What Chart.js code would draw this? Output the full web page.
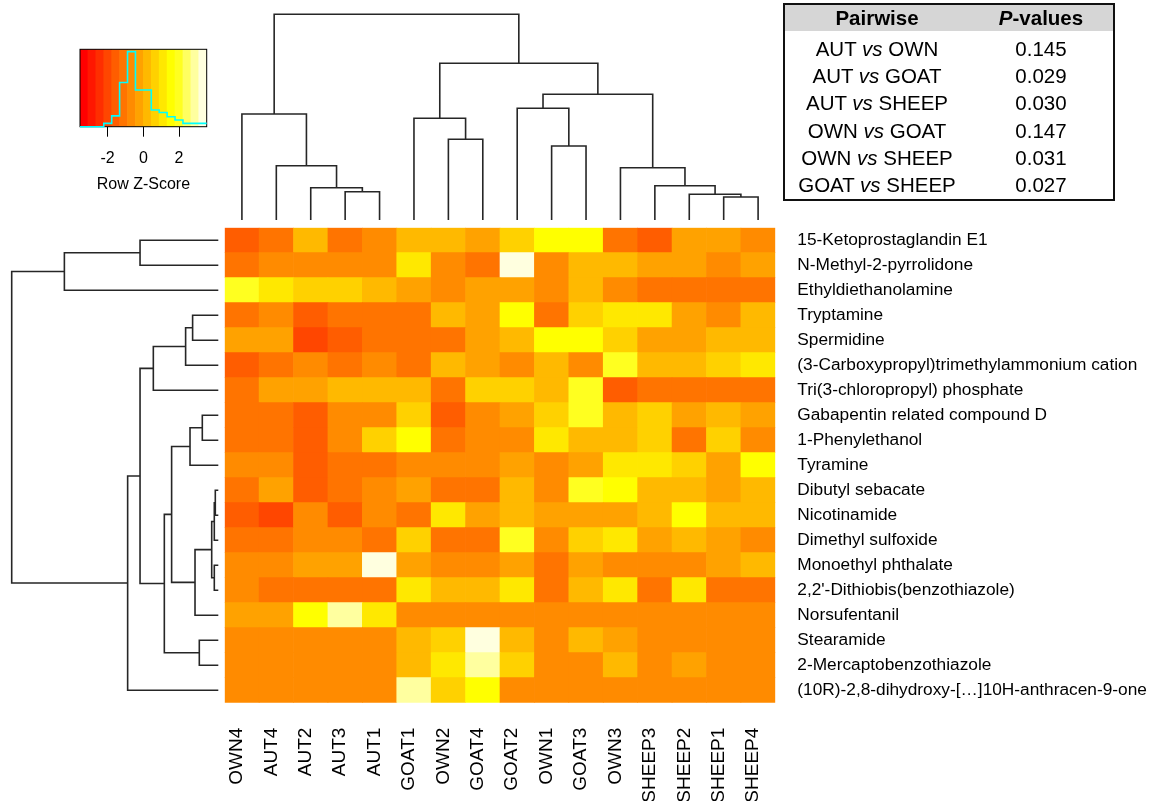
<!DOCTYPE html>
<html><head><meta charset="utf-8">
<script src="https://cdn.jsdelivr.net/npm/chart.js@4.4.1/dist/chart.umd.min.js"></script>
<style>
html,body{margin:0;padding:0;background:#fff;}
#wrap{position:relative;width:1150px;height:801px;overflow:hidden;font-family:'Liberation Sans',Arial,sans-serif;}
canvas.layer{position:absolute;left:0;top:0;}
#pt{position:absolute;left:783px;top:3px;border:2px solid #111;border-collapse:collapse;font-size:20.5px;color:#000;}
#pt td,#pt th{padding:0;text-align:center;white-space:nowrap;}
#pt th{background:#d6d6d6;height:26px;font-weight:bold;}
#pt td{height:27.3px;}
#pt .c1{width:184px;} #pt .c2{width:144px;}
</style></head>
<body>
<div id="wrap">
  <canvas id="heat" class="layer" width="1150" height="801"></canvas>
  <canvas id="dTop" class="layer" width="1150" height="801"></canvas>
  <canvas id="dLeft" class="layer" width="1150" height="801"></canvas>
  <canvas id="key" class="layer" width="240" height="200"></canvas>
  <table id="pt"></table>
</div>
<script>
// ---------------- data ----------------
const colNames = ['OWN4','AUT4','AUT2','AUT3','AUT1','GOAT1','OWN2','GOAT4','GOAT2','OWN1','GOAT3','OWN3','SHEEP3','SHEEP2','SHEEP1','SHEEP4'];
const rowNames = ['15-Ketoprostaglandin E1','N-Methyl-2-pyrrolidone','Ethyldiethanolamine','Tryptamine','Spermidine',
  '(3-Carboxypropyl)trimethylammonium cation','Tri(3-chloropropyl) phosphate','Gabapentin related compound D','1-Phenylethanol',
  'Tyramine','Dibutyl sebacate','Nicotinamide','Dimethyl sulfoxide','Monoethyl phthalate',"2,2'-Dithiobis(benzothiazole)",
  'Norsufentanil','Stearamide','2-Mercaptobenzothiazole','(10R)-2,8-dihydroxy-[\u2026]10H-anthracen-9-one'];
// row z-scores (rows top->bottom, columns in display order)
const zScores = [
  [-1.55,-1.1,0.2,-1.1,-0.55,0.2,0.2,-0.2,0.65,1.55,1.55,-1.1,-1.55,-0.2,-0.2,-0.55],
  [-1.1,-0.55,-0.55,-0.55,-0.55,1.1,-0.55,-1.1,3.3,-0.55,0.2,0.2,-0.2,-0.2,-0.55,-0.2],
  [2.0,1.1,0.65,0.65,0.2,-0.2,-0.55,-0.2,-0.2,-0.55,0.2,-0.55,-1.1,-1.1,-1.1,-1.1],
  [-1.1,-0.55,-1.55,-1.1,-1.1,-1.1,0.2,-0.2,1.55,-1.1,0.65,1.1,1.1,-0.2,-0.55,0.2],
  [-0.2,-0.2,-2.0,-1.55,-1.1,-1.1,-1.1,-0.2,0.2,1.55,1.55,0.65,-0.2,-0.2,0.2,0.2],
  [-1.55,-1.1,-0.55,-1.1,-0.55,-1.1,0.2,-0.2,-0.55,0.2,-0.55,2.0,0.2,0.2,0.65,1.1],
  [-1.1,-0.2,-0.2,0.2,0.2,0.2,-1.1,0.65,0.65,0.2,2.0,-1.55,-1.1,-1.1,-1.1,-1.1],
  [-1.1,-1.1,-1.55,-0.55,-0.55,0.65,-1.55,-0.55,-0.2,0.65,2.0,0.2,0.65,-0.2,0.2,-0.2],
  [-1.1,-1.1,-1.55,-0.55,0.65,1.55,-1.1,-0.55,-0.55,1.1,0.2,0.2,0.65,-1.1,0.65,-0.55],
  [-0.55,-0.55,-1.55,-1.1,-1.1,-0.55,-0.55,-0.55,-0.2,-0.55,-0.2,1.1,1.1,0.65,-0.2,1.55],
  [-1.1,-0.2,-1.55,-1.1,-0.55,-0.2,-1.1,-1.1,0.2,-0.55,2.0,1.55,0.2,0.2,-0.2,0.2],
  [-1.55,-2.0,-0.55,-1.55,-0.55,-1.1,1.1,-0.2,0.2,-0.2,-0.2,-0.2,0.2,1.55,0.2,0.2],
  [-1.1,-1.1,-0.55,-0.55,-1.1,0.65,-1.1,-1.1,2.0,-0.55,0.65,1.1,-0.2,0.2,-0.2,-0.55],
  [-0.55,-0.55,-0.2,-0.2,3.3,-0.2,-0.55,-0.55,-0.2,-1.1,-0.2,-0.55,-0.55,-0.55,-0.2,0.2],
  [-0.55,-1.1,-1.1,-1.1,-1.1,1.1,0.2,0.2,1.1,-1.1,0.2,1.1,-1.1,1.1,-1.1,-1.1],
  [-0.2,-0.2,1.55,2.9,1.1,-0.55,-0.55,-0.55,-0.55,-0.55,-0.55,-0.55,-0.55,-0.55,-0.55,-0.55],
  [-0.55,-0.55,-0.55,-0.55,-0.55,0.2,0.65,3.3,0.2,-0.55,0.2,-0.2,-0.55,-0.55,-0.55,-0.55],
  [-0.55,-0.55,-0.55,-0.55,-0.55,0.2,1.1,2.9,0.65,-0.55,-0.55,0.2,-0.55,-0.2,-0.55,-0.55],
  [-0.55,-0.55,-0.55,-0.55,-0.55,2.9,0.65,1.55,-0.55,-0.55,-0.55,-0.55,-0.55,-0.55,-0.55,-0.55]
];
// column dendrogram (hclust-style merges: negative = leaf in display order, positive = earlier merge)
const colMerge = [[-4,-5],[-3,1],[-2,2],[-1,3],[-7,-8],[-6,5],[-10,-11],[-9,7],[-15,-16],[-14,9],[-13,10],[-12,11],[8,12],[6,13],[4,14]];
const colHeights = [1.415,1.615,2.715,5.30,4.035,5.085,3.70,5.585,1.15,1.285,1.715,2.615,6.285,7.835,10.285];
// row dendrogram
const rowMerge = [[-1,-2],[1,-3],[-4,-5],[3,-6],[4,-7],[-8,-9],[6,-10],[-11,-12],[8,-13],[-14,-15],[9,10],[11,-16],[7,12],[-17,-18],[13,14],[5,15],[16,-19],[2,17]];
const rowHeights = [3.915,7.7,1.285,1.635,3.25,0.8,1.415,0.15,0.2,0.2,0.33,1.165,2.335,0.95,2.7,3.915,4.535,10.335];
// colour key
const keyRange = [-3.55, 3.55];
const nColors = 16;
const keyHist = [0,0,0,4,13,53,90,44,44,20,17,12,8,4,4,4];
const keyTicks = [-2, 0, 2];
// pairwise table
const pairA = ['AUT','AUT','AUT','OWN','OWN','GOAT'];
const pairB = ['OWN','GOAT','SHEEP','GOAT','SHEEP','SHEEP'];
const pValues = ['0.145','0.029','0.030','0.147','0.031','0.027'];

// ---------------- helpers ----------------
const FONT = "'Liberation Sans', Arial, sans-serif";
Chart.defaults.font.family = FONT;
Chart.defaults.color = '#000';
Chart.defaults.animation = false;
Chart.defaults.plugins.legend.display = false;
Chart.defaults.plugins.tooltip.enabled = false;

function binColor(k) {
  const j = Math.floor(nColors / 4), i = nColors - j;
  if (k < i) return 'rgb(255,' + Math.round(255 * k / (i - 1)) + ',0)';
  const s = 1 - (2 * (k - i) + 1) / (2 * j);
  return 'rgb(255,255,' + Math.round(255 * (1 - s)) + ')';
}
function heatColor(z) {
  const t = (z - keyRange[0]) / (keyRange[1] - keyRange[0]);
  const k = Math.max(0, Math.min(nColors - 1, Math.floor(t * nColors)));
  return binColor(k);
}
function dendroSegments(merge, heights) {
  const pos = [], hgt = [], segs = [];
  const get = id => id < 0 ? { p: -id - 1, h: 0 } : { p: pos[id - 1], h: hgt[id - 1] };
  merge.forEach((m, i) => {
    const A = get(m[0]), B = get(m[1]), H = heights[i];
    pos[i] = (A.p + B.p) / 2; hgt[i] = H;
    segs.push([[A.p, A.h], [A.p, H], [B.p, H], [B.p, B.h]]);
  });
  return segs;
}
const LINE = { showLine: true, borderColor: '#262626', borderWidth: 1.6, pointRadius: 0, fill: false, clip: false, tension: 0 };

// ---------------- heatmap ----------------
const heatDatasets = rowNames.map((n, r) => r).reverse().map(r => ({
  label: rowNames[r],
  data: colNames.map(() => 1),
  backgroundColor: zScores[r].map(heatColor),
  borderWidth: 0,
  barPercentage: 1,
  categoryPercentage: 1
}));
new Chart(document.getElementById('heat'), {
  type: 'bar',
  data: { labels: colNames, datasets: heatDatasets },
  options: {
    responsive: false,
    layout: { padding: { left: 224.7, top: 227.7, right: 0, bottom: 0 } },
    scales: {
      x: {
        stacked: true,
        grid: { display: false, drawTicks: false },
        border: { display: false },
        ticks: { autoSkip: false, minRotation: 90, maxRotation: 90, padding: 25, labelOffset: -5,
                 font: { size: 19 }, color: '#000' },
        afterFit: s => { s.height = 98.3; }
      },
      y: { stacked: true, min: 0, max: rowNames.length, display: false },
      yLab: {
        type: 'category', labels: rowNames, position: 'right', offset: true,
        grid: { display: false, drawTicks: false },
        border: { display: false },
        ticks: { autoSkip: false, padding: 22, font: { size: 17.3 }, color: '#000' },
        afterFit: s => { s.width = 374.7; }
      }
    }
  }
});

// ---------------- top dendrogram ----------------
new Chart(document.getElementById('dTop'), {
  type: 'scatter',
  data: { datasets: dendroSegments(colMerge, colHeights).map(s => Object.assign({ data: s.map(p => ({ x: p[0], y: p[1] })) }, LINE)) },
  options: {
    responsive: false,
    layout: { padding: { left: 224.7, right: 374.7, top: 14.3, bottom: 581 } },
    scales: {
      x: { type: 'linear', min: -0.5, max: colNames.length - 0.5, display: false },
      y: { type: 'linear', min: 0, max: Math.max(...colHeights), display: false }
    }
  }
});

// ---------------- left dendrogram ----------------
new Chart(document.getElementById('dLeft'), {
  type: 'scatter',
  data: { datasets: dendroSegments(rowMerge, rowHeights).map(s => Object.assign({ data: s.map(p => ({ x: p[1], y: p[0] })) }, LINE)) },
  options: {
    responsive: false,
    layout: { padding: { left: 11.7, right: 931.7, top: 227.7, bottom: 98.3 } },
    scales: {
      x: { type: 'linear', min: 0, max: Math.max(...rowHeights), reverse: true, display: false },
      y: { type: 'linear', min: -0.5, max: rowNames.length - 0.5, reverse: true, display: false }
    }
  }
});

// ---------------- colour key ----------------
const binW = (keyRange[1] - keyRange[0]) / nColors;
const keyYMax = 92.8;
const keyBars = keyHist.map((c, k) => ({ x: keyRange[0] + (k + 0.5) * binW, y: [0, keyYMax] }));
const keyLine = keyHist.map((c, k) => ({ x: keyRange[0] + k * binW, y: c }));
keyLine.push({ x: keyRange[1], y: keyHist[keyHist.length - 1] });
const keyBox = {
  id: 'keyBox',
  afterDatasetDraw(chart, args) {
    if (args.index !== 1) return;
    const a = chart.chartArea, ctx = chart.ctx;
    ctx.save(); ctx.strokeStyle = '#000'; ctx.lineWidth = 1;
    ctx.strokeRect(a.left, a.top, a.right - a.left, a.bottom - a.top);
    ctx.restore();
  }
};
new Chart(document.getElementById('key'), {
  type: 'bar',
  data: {
    datasets: [
      { type: 'line', data: keyLine, stepped: 'before', borderColor: '#00ffff', borderWidth: 1.6, pointRadius: 0, fill: false, clip: false },
      { type: 'bar', data: keyBars, backgroundColor: keyHist.map((c, k) => binColor(k)), borderWidth: 0, barPercentage: 1, categoryPercentage: 1 }
    ]
  },
  plugins: [keyBox],
  options: {
    responsive: false,
    layout: { padding: { left: 80, right: 33.3, top: 49.3, bottom: 0 } },
    scales: {
      x: {
        type: 'linear', min: keyRange[0], max: keyRange[1], offset: false,
        grid: { drawOnChartArea: false, drawTicks: true, tickLength: 10, color: '#000', offset: false },
        border: { display: false },
        afterBuildTicks: s => { s.ticks = keyTicks.map(v => ({ value: v })); },
        ticks: { padding: 12, font: { size: 16 }, color: '#000' },
        title: { display: true, text: 'Row Z-Score', font: { size: 16 }, color: '#000', padding: { top: 0, bottom: 5.4 } },
        afterFit: s => { s.height = 73.3; }
      },
      y: { min: 0, max: keyYMax, display: false }
    }
  }
});

// ---------------- table ----------------
(function () {
  const t = document.getElementById('pt');
  let h = '<tr><th class="c1">Pairwise</th><th class="c2"><i>P</i>-values</th></tr><tr style="height:4px"><td colspan="2" style="height:4px"></td></tr>';
  pairA.forEach((a, i) => {
    h += '<tr><td class="c1">' + a + ' <i>vs</i> ' + pairB[i] + '</td><td class="c2">' + pValues[i] + '</td></tr>';
  });
  t.innerHTML = h;
})();
</script>
</body></html>
